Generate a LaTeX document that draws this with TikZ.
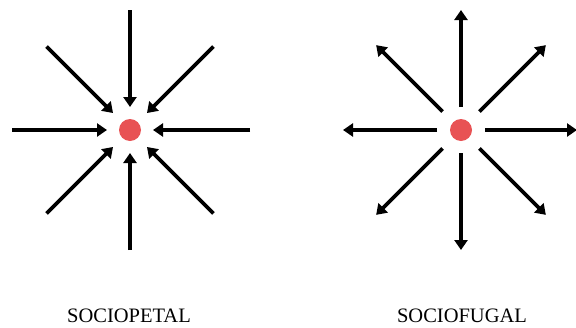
\documentclass[tikz,border=0pt]{standalone}
\usepackage{fontspec}
\setmainfont{Liberation Serif}
\usetikzlibrary{arrows.meta}
\definecolor{dotred}{RGB}{232,82,84}
\begin{document}
\begin{tikzpicture}[x=1pt,y=-1pt,
  arr/.style={line width=3.8pt,-{Triangle[length=10pt,width=13pt]}},
  reddot/.style={circle,fill=dotred,minimum size=22pt,inner sep=0pt},
  lbl/.style={font=\fontsize{20.5}{24}\selectfont}]
\useasboundingbox (0,0) rectangle (576,327);
% left: sociopetal
\node[reddot] (L) at (130,130) {};
\foreach \a/\r/\s in {0/120/23,90/120/23,180/118/23,270/120/23,45/118/24,135/118/24,225/118/24,315/118/24}{
  \draw[arr] ([shift={(\a:\r)}]L.center) -- ([shift={(\a:\s)}]L.center);
}
% right: sociofugal
\node[reddot] (R) at (461,130) {};
\foreach \a/\r/\s in {0/24/116,90/23/120,180/24/118,270/23/120,45/26/120,135/26/120,225/26/120,315/26/120}{
  \draw[arr] ([shift={(\a:\r)}]R.center) -- ([shift={(\a:\s)}]R.center);
}
\node[lbl,anchor=base] (tl) at (129,322) {SOCIOPETAL};
\node[lbl,anchor=base] (tr) at (462,322) {SOCIOFUGAL};
\end{tikzpicture}
\end{document}
